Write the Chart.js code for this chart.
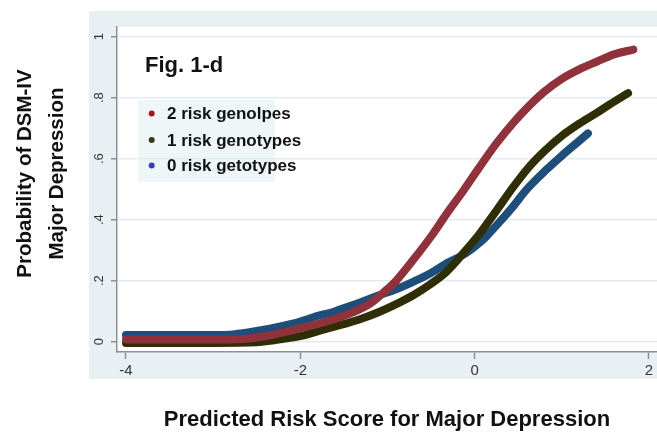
<!DOCTYPE html>
<html>
<head>
<meta charset="utf-8">
<script src="https://cdn.jsdelivr.net/npm/chart.js@4.4.1/dist/chart.umd.min.js"></script>
<style>
  html, body { margin: 0; padding: 0; background: #ffffff; }
  #wrap { width: 657px; height: 433px; position: relative; }
</style>
</head>
<body>
<div id="wrap"><canvas id="c" width="657" height="433"></canvas></div>
<script>
// Predicted risk score (x) and probability of DSM-IV major depression (y) by genotype group
const x2risk = [-4, -3.5, -3, -2.62, -2.4, -2.2, -2.0, -1.8, -1.6, -1.4, -1.2, -1.05, -0.9, -0.7, -0.5, -0.32, -0.13, 0.05, 0.25, 0.45, 0.63, 0.8, 1.0, 1.2, 1.4, 1.6, 1.82];
const y2risk = [0.007, 0.007, 0.007, 0.01, 0.018, 0.03, 0.044, 0.058, 0.075, 0.096, 0.125, 0.16, 0.2, 0.27, 0.345, 0.42, 0.495, 0.57, 0.65, 0.72, 0.775, 0.82, 0.862, 0.893, 0.918, 0.942, 0.958];

const x1risk = [-4, -3.5, -3, -2.5, -2.3, -2.0, -1.85, -1.6, -1.47, -1.3, -1.09, -0.9, -0.7, -0.5, -0.32, -0.1, 0.06, 0.25, 0.45, 0.63, 0.8, 1.0, 1.2, 1.4, 1.55, 1.76];
const y1risk = [-0.004, -0.004, -0.004, -0.002, 0.005, 0.018, 0.03, 0.05, 0.06, 0.075, 0.098, 0.123, 0.153, 0.19, 0.23, 0.3, 0.355, 0.43, 0.51, 0.575, 0.625, 0.675, 0.715, 0.75, 0.778, 0.815];

const x0risk = [-4, -3.5, -3, -2.77, -2.5, -2.2, -2.0, -1.85, -1.6, -1.47, -1.3, -1.12, -0.9, -0.7, -0.5, -0.32, -0.1, 0.06, 0.14, 0.3, 0.44, 0.6, 0.82, 1.0, 1.21, 1.3];
const y0risk = [0.022, 0.022, 0.022, 0.024, 0.035, 0.052, 0.066, 0.08, 0.1, 0.113, 0.13, 0.15, 0.172, 0.197, 0.225, 0.257, 0.29, 0.325, 0.347, 0.397, 0.443, 0.5, 0.563, 0.61, 0.661, 0.683];

const seriesNames = ['2 risk genolpes', '1 risk genotypes', '0 risk getotypes'];
const xTicks = [-4, -2, 0, 2];
const yTicks = [0, 0.2, 0.4, 0.6, 0.8, 1];
const yTickLabels = ['0', '.2', '.4', '.6', '.8', '1'];
const figLabel = 'Fig. 1-d';
const xTitle = 'Predicted Risk Score for Major Depression';
const yTitle = ['Probability of DSM-IV', 'Major Depression'];

// styling
const lineColors = ['#8f323c', '#2f2e06', '#1f4e7a'];
const dotColors = ['#a01a1f', '#3c3a12', '#3b3fa8'];
const FONT = '"Liberation Sans", Arial, Helvetica, sans-serif';

const toPoints = (xs, ys) => xs.map((x, i) => ({ x: x, y: ys[i] }));

function lineSet(label, xs, ys, color) {
  return {
    label: label,
    data: toPoints(xs, ys),
    showLine: true,
    borderColor: color,
    backgroundColor: color,
    borderWidth: 8,
    borderCapStyle: 'round',
    borderJoinStyle: 'round',
    pointRadius: 0,
    pointHoverRadius: 0,
    cubicInterpolationMode: 'monotone',
    fill: false
  };
}

// grey frame behind the axes, white plot region
const backdrop = {
  id: 'backdrop',
  beforeDraw(chart) {
    const ctx = chart.ctx;
    const a = chart.chartArea;
    ctx.save();
    ctx.fillStyle = '#ffffff';
    ctx.fillRect(0, 0, chart.width, chart.height);
    ctx.fillStyle = '#e9f0f3';
    ctx.fillRect(89, 11, chart.width - 89, 368);
    ctx.fillStyle = '#ffffff';
    ctx.fillRect(a.left, a.top, a.right - a.left, a.bottom - a.top);
    ctx.restore();
  }
};

// figure tag, in-plot key and the two-line vertical title
const annotations = {
  id: 'annotations',
  afterDatasetsDraw(chart) {
    const ctx = chart.ctx;
    ctx.save();
    // key panel
    ctx.fillStyle = 'rgba(222, 238, 242, 0.5)';
    ctx.fillRect(138, 100, 137, 82);

    ctx.fillStyle = '#111111';
    ctx.font = 'bold 22px ' + FONT;
    ctx.textAlign = 'left';
    ctx.textBaseline = 'alphabetic';
    ctx.fillText(figLabel, 145, 72);

    const rows = [113.5, 140, 165.5];
    ctx.font = 'bold 17px ' + FONT;
    ctx.textBaseline = 'middle';
    seriesNames.forEach((name, i) => {
      ctx.fillStyle = dotColors[i];
      ctx.beginPath();
      ctx.arc(151.7, rows[i], 3, 0, Math.PI * 2);
      ctx.fill();
      ctx.fillStyle = '#111111';
      ctx.fillText(name, 167, rows[i] + 1);
    });
    ctx.restore();
  },
  afterDraw(chart) {
    const ctx = chart.ctx;
    ctx.save();
    ctx.fillStyle = '#111111';
    ctx.font = 'bold 20.5px ' + FONT;
    ctx.textAlign = 'center';
    ctx.textBaseline = 'middle';
    const xs = [25.5, 57.5];
    yTitle.forEach((t, i) => {
      ctx.save();
      ctx.translate(xs[i], 173.5);
      ctx.rotate(-Math.PI / 2);
      ctx.fillText(t, 0, 0);
      ctx.restore();
    });
    ctx.restore();
  }
};

new Chart(document.getElementById('c'), {
  type: 'scatter',
  data: {
    datasets: [
      lineSet(seriesNames[0], x2risk, y2risk, lineColors[0]),
      lineSet(seriesNames[1], x1risk, y1risk, lineColors[1]),
      lineSet(seriesNames[2], x0risk, y0risk, lineColors[2])
    ]
  },
  options: {
    responsive: false,
    animation: false,
    devicePixelRatio: 1,
    layout: { padding: { top: 27, left: 0, right: 0, bottom: 0 } },
    plugins: {
      legend: { display: false },
      tooltip: { enabled: false }
    },
    scales: {
      x: {
        type: 'linear',
        min: -4.103,
        max: 2.092,
        afterBuildTicks(s) { s.ticks = xTicks.map(v => ({ value: v })); },
        afterFit(s) { s.height = 81; },
        grid: {
          drawOnChartArea: false,
          drawTicks: true,
          tickLength: 7,
          tickColor: '#8f8f8f',
          tickWidth: 1.5
        },
        border: { display: true, color: '#8f8f8f', width: 1.5 },
        ticks: {
          padding: 3,
          maxRotation: 0,
          color: '#333333',
          font: { family: FONT, size: 15 },
          callback: v => String(v)
        },
        title: {
          display: true,
          text: xTitle,
          color: '#111111',
          font: { family: FONT, size: 22, weight: 'bold' },
          padding: { top: 0, bottom: 0 }
        }
      },
      y: {
        type: 'linear',
        min: -0.0338,
        max: 1.0318,
        afterBuildTicks(s) { s.ticks = yTicks.map(v => ({ value: v })); },
        afterFit(s) { s.width = 117; },
        grid: {
          drawOnChartArea: true,
          color: '#e2ecef',
          lineWidth: 1.5,
          drawTicks: true,
          tickLength: 6,
          tickColor: '#8f8f8f',
          tickWidth: 1.5
        },
        border: { display: true, color: '#8f8f8f', width: 1.5 },
        ticks: {
          padding: 6,
          minRotation: 90,
          maxRotation: 90,
          crossAlign: 'center',
          color: '#333333',
          font: { family: FONT, size: 13 },
          callback: v => yTickLabels[yTicks.indexOf(v)] ?? ''
        }
      }
    }
  },
  plugins: [backdrop, annotations]
});
</script>
</body>
</html>
